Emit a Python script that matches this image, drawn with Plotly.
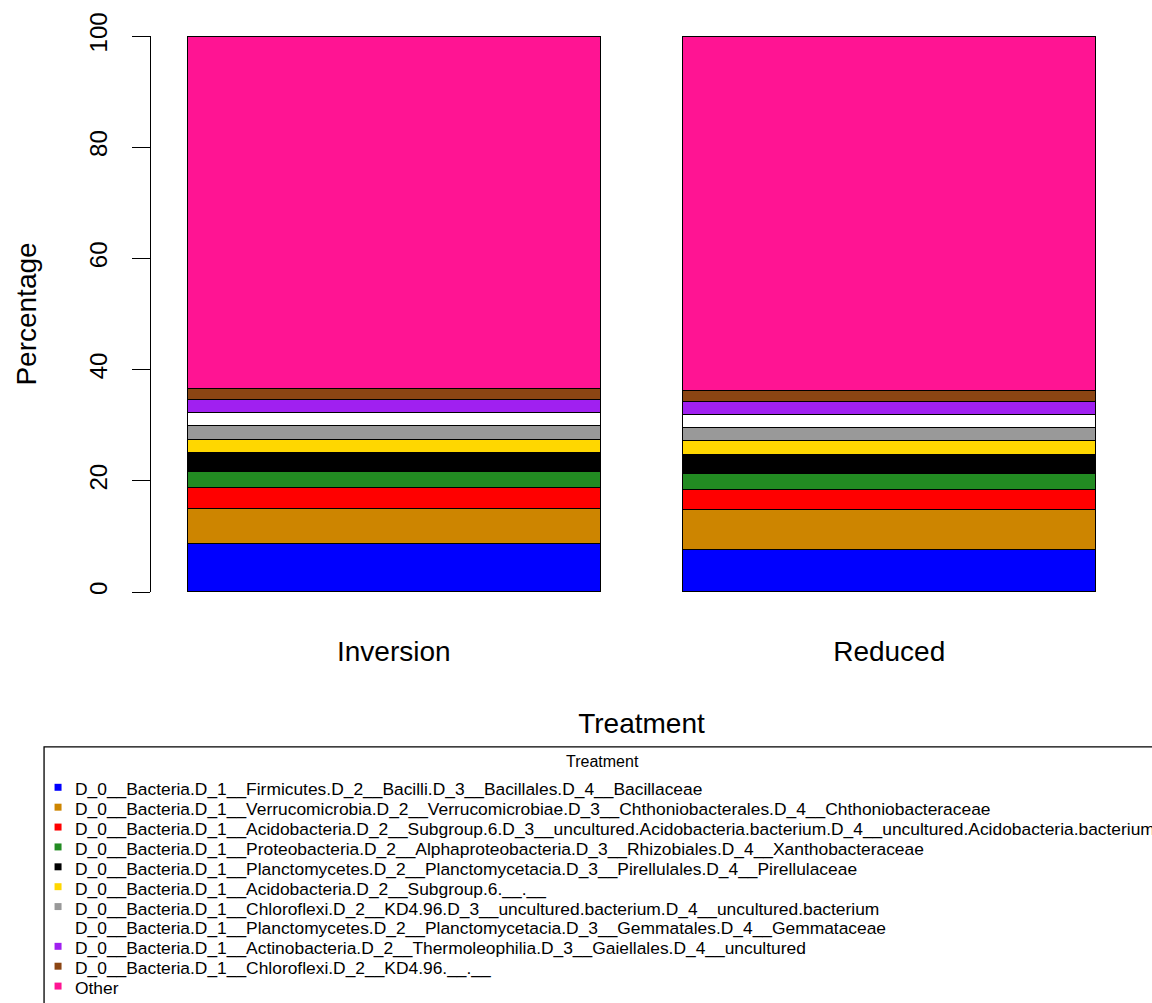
import plotly.graph_objects as go

# Treatments on the x axis
treatments = ["Inversion", "Reduced"]

# Taxa (bottom of the stack first) and their fill colours
taxa = [
    "D_0__Bacteria.D_1__Firmicutes.D_2__Bacilli.D_3__Bacillales.D_4__Bacillaceae",
    "D_0__Bacteria.D_1__Verrucomicrobia.D_2__Verrucomicrobiae.D_3__Chthoniobacterales.D_4__Chthoniobacteraceae",
    "D_0__Bacteria.D_1__Acidobacteria.D_2__Subgroup.6.D_3__uncultured.Acidobacteria.bacterium.D_4__uncultured.Acidobacteria.bacterium",
    "D_0__Bacteria.D_1__Proteobacteria.D_2__Alphaproteobacteria.D_3__Rhizobiales.D_4__Xanthobacteraceae",
    "D_0__Bacteria.D_1__Planctomycetes.D_2__Planctomycetacia.D_3__Pirellulales.D_4__Pirellulaceae",
    "D_0__Bacteria.D_1__Acidobacteria.D_2__Subgroup.6.__.__",
    "D_0__Bacteria.D_1__Chloroflexi.D_2__KD4.96.D_3__uncultured.bacterium.D_4__uncultured.bacterium",
    "D_0__Bacteria.D_1__Planctomycetes.D_2__Planctomycetacia.D_3__Gemmatales.D_4__Gemmataceae",
    "D_0__Bacteria.D_1__Actinobacteria.D_2__Thermoleophilia.D_3__Gaiellales.D_4__uncultured",
    "D_0__Bacteria.D_1__Chloroflexi.D_2__KD4.96.__.__",
    "Other",
]
colors = [
    "#0000FF", "#CD8500", "#FF0000", "#228B22", "#000000", "#FFD700",
    "#999999", "#FFFFFF", "#A020F0", "#8B4513", "#FF1493",
]

# Relative abundance (%) per treatment, same order as taxa
inversion = [8.68, 6.38, 3.71, 2.93, 3.30, 2.50, 2.39, 2.39, 2.33, 2.04, 63.35]
reduced = [7.66, 7.11, 3.70, 2.94, 3.23, 2.56, 2.39, 2.33, 2.33, 2.04, 63.71]

FONT = "Arial, Liberation Sans, sans-serif"
W, H = 1152, 1003
ML, MR, MT, MB = 150.5, 20, 34, 411

fig = go.Figure()
for name, col, a, b in zip(taxa, colors, inversion, reduced):
    fig.add_trace(go.Bar(
        x=treatments, y=[a, b], name=name,
        marker=dict(color=col, line=dict(color="black", width=1.2)),
        showlegend=False,
    ))


def px_x(px):
    return (px - ML) / (W - ML - MR)


def px_y(py):
    return (H - MB - py) / (H - MT - MB)


shapes = []
annotations = []

# Legend frame and title
shapes.append(dict(type="rect", xref="paper", yref="paper",
                   x0=px_x(43.5), x1=px_x(1161), y0=px_y(1012), y1=px_y(747.5),
                   line=dict(color="black", width=1.3), fillcolor="rgba(0,0,0,0)"))
annotations.append(dict(text="Treatment", xref="paper", yref="paper",
                        x=px_x(602), y=px_y(762), showarrow=False,
                        xanchor="center", yanchor="middle",
                        font=dict(family=FONT, size=16, color="black")))

# Legend entries
row0, step = 788, 19.95
for i, (name, col) in enumerate(zip(taxa, colors)):
    yc = row0 + i * step
    shapes.append(dict(type="rect", xref="paper", yref="paper",
                       x0=px_x(54), x1=px_x(61), y0=px_y(yc + 3.5), y1=px_y(yc - 3.5),
                       line=dict(width=0), fillcolor=col))
    annotations.append(dict(text=name, xref="paper", yref="paper",
                            x=px_x(72), y=px_y(yc + 2), showarrow=False,
                            xanchor="left", yanchor="middle",
                            font=dict(family=FONT, size=17.4, color="black")))

fig.update_layout(
    barmode="stack",
    bargap=0.2 / 1.2,
    width=W, height=H,
    margin=dict(l=ML, r=MR, t=MT, b=MB, pad=0),
    paper_bgcolor="white", plot_bgcolor="white",
    font=dict(family=FONT, color="black"),
    shapes=shapes,
    annotations=annotations,
    xaxis=dict(
        range=[-0.49, 1.49],
        showline=False, showgrid=False, zeroline=False,
        ticks="", tickfont=dict(size=28, family=FONT, color="black"),
        ticklabelstandoff=40,
        title=dict(text="Treatment", font=dict(size=28, family=FONT, color="black"), standoff=47),
    ),
    yaxis=dict(
        range=[0, 100],
        tickvals=[0, 20, 40, 60, 80, 100],
        showline=True, linecolor="black", linewidth=1.3,
        showgrid=False, zeroline=False,
        ticks="outside", ticklen=18, tickwidth=1.3, tickcolor="black",
        tickangle=-90, ticklabelstandoff=15,
        tickfont=dict(size=24, family=FONT, color="black"),
        title=dict(text="Percentage", font=dict(size=28, family=FONT, color="black"), standoff=40),
    ),
)

fig.write_html("out.html")
